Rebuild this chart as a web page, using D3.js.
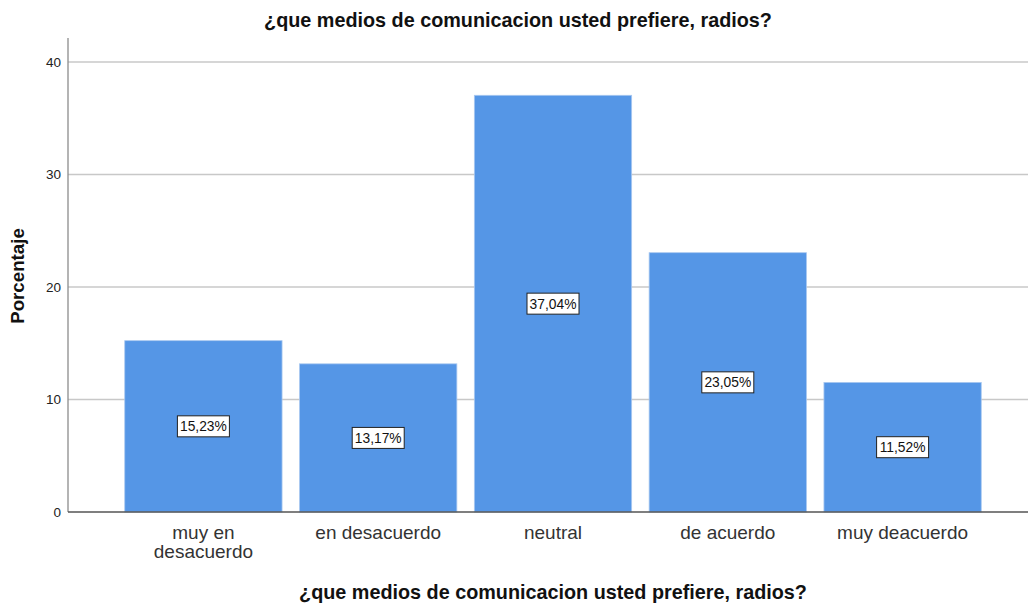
<!DOCTYPE html>
<html>
<head>
<meta charset="utf-8">
<script src="https://cdn.jsdelivr.net/npm/d3@7"></script>
<style>
  body { margin: 0; background: #fff; }
  text { font-family: "Liberation Sans", Arial, sans-serif; }
</style>
</head>
<body>
<div id="container"></div>
<script>
/* DATA */
const categories = ["muy en desacuerdo", "en desacuerdo", "neutral", "de acuerdo", "muy deacuerdo"];
const categoryLines = [["muy en", "desacuerdo"], ["en desacuerdo"], ["neutral"], ["de acuerdo"], ["muy deacuerdo"]];
const percentages = [15.23, 13.17, 37.04, 23.05, 11.52];
const yTicks = [0, 10, 20, 30, 40];
const title = "¿que medios de comunicacion usted prefiere, radios?";

/* CONSTANTS */
const width = 1028, height = 603;
const plot = { left: 68, right: 1028, top: 38, bottom: 512 };

const svg = d3.select("#container").append("svg")
  .attr("width", width)
  .attr("height", height)
  .style("display", "block");

// SCALES
const y = d3.scaleLinear().domain([0, 40]).range([plot.bottom, 62]);
const x = d3.scaleBand()
  .domain(categories)
  .range([116, 990])
  .paddingInner(0.1)
  .paddingOuter(0.05);

// GRIDLINES
svg.selectAll("line.grid")
  .data(yTicks.filter(d => d > 0))
  .join("line")
  .attr("class", "grid")
  .attr("x1", plot.left).attr("x2", plot.right)
  .attr("y1", d => y(d)).attr("y2", d => y(d))
  .attr("stroke", "#c8c8c8")
  .attr("stroke-width", 1.3);

// BARS
svg.selectAll("rect.bar")
  .data(percentages)
  .join("rect")
  .attr("class", "bar")
  .attr("x", (d, i) => x(categories[i]))
  .attr("y", d => y(d))
  .attr("width", x.bandwidth())
  .attr("height", d => y(0) - y(d))
  .attr("fill", "#5596e6")
  .attr("stroke", "#a9c8f0")
  .attr("stroke-width", 0.8);

// Y AXIS
const yAxis = svg.append("g")
  .attr("transform", `translate(${plot.left},0)`)
  .call(d3.axisLeft(y).tickValues(yTicks).tickSize(0).tickPadding(7));
yAxis.select(".domain").remove();
yAxis.selectAll("text")
  .attr("font-size", 13.5)
  .attr("fill", "#222")
  .style("font-family", "Liberation Sans, Arial, sans-serif");
svg.append("line")
  .attr("x1", plot.left).attr("x2", plot.left)
  .attr("y1", plot.top).attr("y2", plot.bottom)
  .attr("stroke", "#8c8c8c")
  .attr("stroke-width", 1.3);

// X AXIS LINE
svg.append("line")
  .attr("x1", plot.left).attr("x2", plot.right)
  .attr("y1", plot.bottom).attr("y2", plot.bottom)
  .attr("stroke", "#555")
  .attr("stroke-width", 1.3);

// X TICK LABELS
const xl = svg.selectAll("text.xlab")
  .data(categoryLines)
  .join("text")
  .attr("class", "xlab")
  .attr("x", (d, i) => x(categories[i]) + x.bandwidth() / 2)
  .attr("y", 539)
  .attr("text-anchor", "middle")
  .attr("font-size", 19)
  .attr("fill", "#333");
xl.selectAll("tspan")
  .data(d => d)
  .join("tspan")
  .attr("x", function () { return this.parentNode.getAttribute("x"); })
  .attr("dy", (d, i) => i === 0 ? 0 : 19)
  .text(d => d);

// VALUE LABELS
const labels = svg.selectAll("g.vlab")
  .data(percentages)
  .join("g")
  .attr("class", "vlab")
  .attr("transform", (d, i) => `translate(${x(categories[i]) + x.bandwidth() / 2},${y(d / 2)})`);
labels.append("rect")
  .attr("x", -26).attr("y", -10.5)
  .attr("width", 52).attr("height", 21)
  .attr("fill", "#fff")
  .attr("stroke", "#222")
  .attr("stroke-width", 1);
labels.append("text")
  .attr("text-anchor", "middle")
  .attr("dy", "0.36em")
  .attr("font-size", 13.8)
  .attr("fill", "#111")
  .text(d => d.toFixed(2).replace(".", ",") + "%");

// TITLES
svg.append("text")
  .attr("x", 518).attr("y", 27)
  .attr("text-anchor", "middle")
  .attr("font-size", 19.8)
  .attr("font-weight", "bold")
  .attr("fill", "#111")
  .text(title);

svg.append("text")
  .attr("x", 553).attr("y", 599)
  .attr("text-anchor", "middle")
  .attr("font-size", 19.8)
  .attr("font-weight", "bold")
  .attr("fill", "#111")
  .text(title);

svg.append("text")
  .attr("transform", "translate(24,276) rotate(-90)")
  .attr("text-anchor", "middle")
  .attr("font-size", 18.7)
  .attr("font-weight", "bold")
  .attr("fill", "#111")
  .text("Porcentaje");
</script>
</body>
</html>
